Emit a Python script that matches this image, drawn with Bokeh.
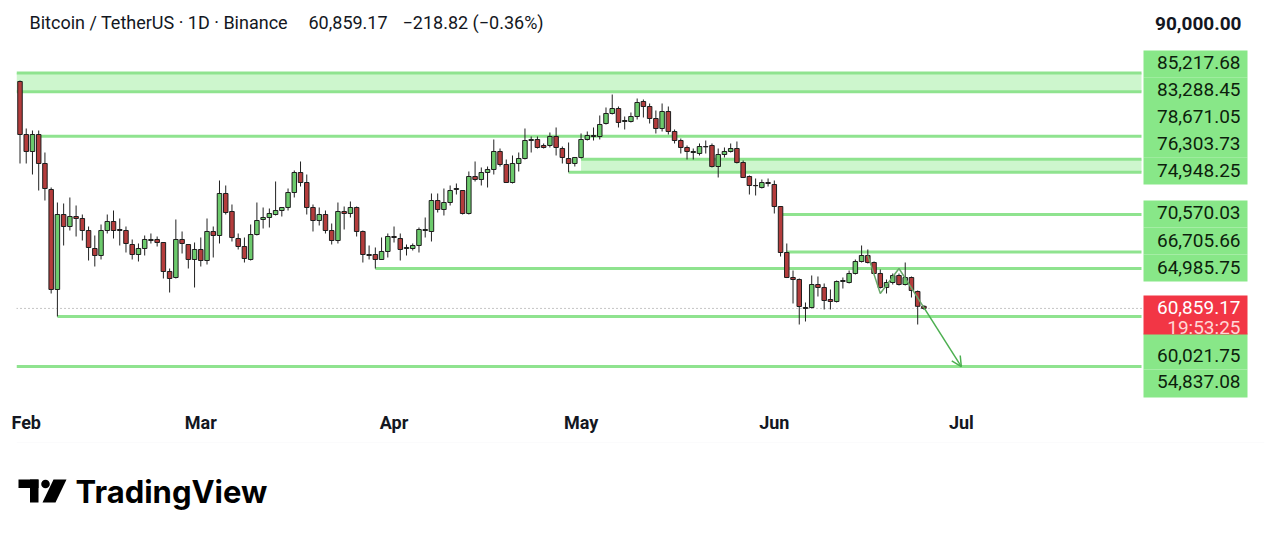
import pandas as pd
from bokeh.plotting import figure
from bokeh.models import Range1d, FixedTicker, DatetimeTickFormatter, Arrow, OpenHead
from bokeh.layouts import column
from bokeh.embed import file_html
from bokeh.resources import INLINE
from bokeh.core.properties import value

# ---------------- data ----------------
symbol_title = "Bitcoin / TetherUS · 1D · Binance"
last_price = 60859.17
change = -218.82
change_pct = -0.36
countdown = "19:53:25"
first_date = "2026-01-31"

opens = [84345, 78859, 77100, 78859, 75858, 73167, 62817, 70579, 69337, 70372,
         70165, 68923, 67060, 66336, 68923, 69855, 69027, 68923, 67474, 66439,
         67060, 67888, 67992, 67681, 64680, 64059, 67992, 67474, 65922, 66957,
         65818, 68820, 68406, 72753, 70890, 68095, 67267, 65922, 68509, 70062,
         70269, 70579, 70993, 71304, 72856, 74926, 73891, 71304, 69958, 70579,
         68923, 67888, 70890, 70683, 71304, 68820, 66439, 66439, 65922, 66750,
         68302, 68095, 67060, 67060, 67371, 68923, 68820, 72028, 71097, 71821,
         73167, 73063, 70683, 74512, 74202, 74926, 75237, 77100, 75754, 73891,
         75858, 76375, 78238, 78342, 77721, 77721, 78652, 77410, 76375, 75858,
         76479, 78342, 78756, 78652, 79998, 81033, 81550, 80205, 80205, 80722,
         82275, 81757, 80515, 79480, 81240, 79170, 78238, 77514, 76996, 76893,
         77617, 77721, 75547, 76789, 77100, 77410, 75961, 74512, 73581, 73374,
         73891, 73684, 71407, 66646, 64059, 63852, 60954, 60954, 63334, 63024,
         61782, 61575, 63645, 63541, 64473, 65715, 66336, 65611, 64473, 63024,
         63541, 64266, 63334, 64059, 62610, 61077.99]
highs = [84448, 79480, 79273, 79273, 76996, 73374, 71821, 71718, 72339, 71511,
         70579, 69337, 68406, 69544, 70579, 70993, 70165, 69337, 67992, 67578,
         68406, 68613, 68302, 67681, 64990, 70062, 68820, 67474, 67681, 68199,
         70165, 69337, 74098, 73581, 71614, 68613, 68199, 69544, 71821, 71304,
         71200, 73995, 71304, 73270, 75133, 76065, 74719, 71614, 71304, 70993,
         69648, 71821, 71407, 71925, 71407, 68923, 67371, 67164, 68199, 68613,
         69337, 68613, 67474, 67578, 69234, 70269, 72753, 72753, 73270, 73581,
         73788, 73063, 75030, 76065, 75444, 75547, 78342, 77410, 76272, 76686,
         76996, 79480, 78652, 78652, 77928, 79066, 79584, 77617, 78031, 76479,
         78963, 79170, 79584, 80826, 81654, 82999, 81757, 80722, 81136, 82585,
         82482, 82068, 81343, 82068, 81757, 79377, 78445, 77721, 77410, 77928,
         78238, 77928, 77410, 77514, 77928, 78135, 76168, 74616, 74305, 74202,
         74305, 74098, 71407, 67578, 64783, 63955, 61471, 64266, 64162, 63438,
         62817, 63748, 64059, 64783, 65922, 67371, 66957, 65715, 64887, 63852,
         64473, 64473, 65611, 64162, 62713, 61180]
lows = [75858, 75858, 74719, 73063, 72028, 62403, 60021.75, 67371, 68923, 68302,
        67888, 65818, 65197, 65922, 68613, 68095, 67371, 66646, 65922, 65715,
        66336, 67578, 67267, 63955, 62506, 63955, 66543, 64990, 63024, 65197,
        65404, 66129, 67578, 70579, 67785, 66957, 65611, 65818, 68406, 69130,
        69234, 70476, 70372, 70993, 72339, 73477, 70579, 68820, 69441, 68613,
        67474, 67578, 69027, 70269, 68302, 65611, 65922, 64985.75, 65880, 66129,
        67681, 65818, 66336, 66853, 66646, 68199, 67785, 70786, 70476, 71511,
        72649, 70579, 70579, 73995, 73581, 73374, 74719, 75547, 73850, 73788,
        75030, 76272, 76996, 77410, 77410, 77514, 76686, 75858, 74948.25, 75547,
        76375, 78238, 78238, 78342, 79894, 80929, 79584, 79377, 80101, 80412,
        80619, 79998, 78963, 79170, 78859, 77928, 76893, 76272, 76272, 76686,
        76893, 75444, 74409, 76479, 76996, 75858, 74350, 72649, 72546, 73270,
        73477, 70683, 66232, 64000, 61368, 59194, 59505, 60850, 62092, 60747,
        60747, 61471, 62920, 63438, 64369, 65611, 65508, 64420, 62920, 62403,
        63334, 63231, 63231, 61989, 59194, 60720]
closes = [78859, 77100, 78859, 75858, 73270, 62817, 70579, 69337, 70372, 70165,
          68923, 67164, 66336, 68923, 69855, 68923, 68923, 67578, 66439, 67060,
          67992, 67992, 67681, 64680, 63955, 67992, 67578, 65922, 66957, 65818,
          68820, 68406, 72753, 70786, 68199, 67267, 66025, 68509, 69958, 70269,
          70683, 70993, 71304, 72856, 74926, 73891, 71304, 69958, 70579, 68923,
          67888, 70890, 70683, 71304, 68820, 66439, 66336, 65922, 66750, 68302,
          68199, 66957, 67164, 67371, 69027, 69027, 72028, 71097, 71821, 73063,
          73270, 70683, 74512, 74202, 74926, 75237, 77100, 75754, 73891, 75858,
          76375, 78238, 78342, 77514, 77514, 78652, 77514, 76479, 75858, 76479,
          78342, 78756, 78652, 79894, 81033, 81550, 80101, 80308, 80722, 82171,
          81757, 80515, 79480, 81240, 79170, 78238, 77514, 77100, 77100, 77617,
          77580, 75547, 76789, 77100, 77410, 75961, 74409, 73581, 73560, 73891,
          73788, 71407, 66646, 64059, 63852, 61057, 60850, 63334, 63024, 61678,
          61575, 63645, 63748, 64473, 65715, 66336, 65611, 64473, 63024, 63541,
          64266, 63334, 64059, 62713, 61077.99, 60859.17]

month_ticks = ["2026-02-01", "2026-03-01", "2026-04-01", "2026-05-01", "2026-06-01", "2026-07-01"]
axis_price = 90000.0

level_prices = [85217.68, 83288.45, 78671.05, 76303.73, 74948.25,
                70570.03, 66705.66, 64985.75, 60021.75, 54837.08]
level_starts = [None, None, "2026-02-03", "2026-05-01", "2026-04-29",
                "2026-06-02", "2026-06-03", "2026-03-29", "2026-02-06", None]
band_tops = [85217.68, 76303.73]
band_bottoms = [83288.45, 74948.25]
band_starts = [None, "2026-05-01"]

zz_dates = ["2026-06-16", "2026-06-18", "2026-06-21", "2026-06-25"]
zz_prices = [66350, 62400, 64990, 60950]
target_date = "2026-07-01"
target_price = 54837.08

# ---------------- layout helpers (pixel placement of the screenshot) ----------------
REF_X_FIRST = 19.5    # screen x of the first candle
PX_DAY = 6.234        # pixels per day
P_TOP = 92728.0       # price at screen y = 0
P_PX = 103.5          # price per pixel
DAY = 86400000.0


def ms(ts):
    return pd.Timestamp(ts).value / 1e6


T0 = ms(first_date)


def xr(ref_x):
    return T0 + (ref_x - REF_X_FIRST) / PX_DAY * DAY


def yr(ref_y):
    return P_TOP - P_PX * ref_y


FONT = value("Roboto")
INK = "#131722"
LINE_GREEN = "#8fe38f"
BAND_FILL = "#cdf6cd"
LABEL_GREEN = "#88e788"
UP = "#6cca6c"
DOWN = "#b43c3c"

dates = pd.date_range(first_date, periods=len(opens), freq="D")

p = figure(width=1272, height=442, x_axis_type="datetime", y_axis_location=None,
           x_range=Range1d(xr(16), xr(1264)), y_range=Range1d(yr(405), yr(0)),
           toolbar_location=None, output_backend="svg",
           min_border_left=16, min_border_right=8, min_border_top=0, min_border_bottom=37)
p.outline_line_color = None
p.xgrid.visible = False
p.ygrid.visible = False
p.background_fill_color = "white"
p.border_fill_color = "white"

ax = p.xaxis[0]
ax.ticker = FixedTicker(ticks=[ms(t) for t in month_ticks])
ax.formatter = DatetimeTickFormatter(days="%b", months="%b", years="%b")
ax.axis_line_color = None
ax.major_tick_line_color = None
ax.minor_tick_line_color = None
ax.major_tick_out = 0
ax.major_tick_in = 0
ax.minor_tick_out = 0
ax.major_label_text_font = "Roboto"
ax.major_label_text_font_size = "18px"
ax.major_label_text_font_style = "bold"
ax.major_label_text_color = INK
ax.major_label_standoff = 6

line_end = xr(1141)
left_edge = xr(16)

# bands
p.quad(left=[ms(s) if s else left_edge for s in band_starts], right=[line_end] * len(band_tops),
       top=band_tops, bottom=band_bottoms, fill_color=BAND_FILL, line_color=None)
# horizontal levels
p.segment(x0=[ms(s) if s else left_edge for s in level_starts], y0=level_prices,
          x1=[line_end] * len(level_prices), y1=level_prices,
          line_color=LINE_GREEN, line_width=3)
# current price dotted
p.segment(x0=[left_edge], y0=[last_price], x1=[line_end], y1=[last_price],
          line_color="#8a8a8a", line_width=1, line_dash="1 3")

# candles
colors = [UP if c >= o else DOWN for o, c in zip(opens, closes)]
p.segment(x0=dates, y0=highs, x1=dates, y1=lows, line_color="#222222", line_width=1)
p.vbar(x=dates, width=0.72 * DAY, top=[max(o, c) for o, c in zip(opens, closes)],
       bottom=[min(o, c) for o, c in zip(opens, closes)], fill_color=colors,
       line_color="#1e1e1e", line_width=1)

# drawing: zigzag + arrow
zz_x = [ms(d) for d in zz_dates]
p.line(zz_x, zz_prices, line_color="#6aa86a", line_width=1.5)
p.add_layout(Arrow(end=OpenHead(size=10, line_color="#4caf50", line_width=1.5),
                   x_start=zz_x[-1], y_start=zz_prices[-1],
                   x_end=ms(target_date), y_end=target_price,
                   line_color="#4caf50", line_width=1.5))

# price scale labels
label_tops = [50, 76.8, 103.6, 130.4, 157.2, 200, 227, 254, 333, 369]
label_bottoms = [76.8, 103.6, 130.4, 157.2, 184, 227, 254, 281, 369, 397]
label_text_y = [62, 88.5, 115.5, 142.5, 169.5, 212, 239.5, 266.5, 355, 381]
p.quad(left=[xr(1143)] * len(level_prices), right=[xr(1247)] * len(level_prices),
       top=[yr(v) for v in label_tops], bottom=[yr(v) for v in label_bottoms],
       fill_color=LABEL_GREEN, line_color=None)
p.text(x=[xr(1240)] * len(level_prices), y=[yr(v) for v in label_text_y],
       text=[f"{v:,.2f}" for v in level_prices], text_font=FONT, text_font_size="19px",
       text_align="right", text_baseline="middle", text_color="#0d1f0d")
# current price badge
p.quad(left=[xr(1143)], right=[xr(1247)], top=[yr(295)], bottom=[yr(334)],
       fill_color="#f23645", line_color=None)
p.text(x=[xr(1240), xr(1240)], y=[yr(306.5), yr(327)],
       text=[f"{last_price:,.2f}", countdown], text_font=FONT, text_font_size="19px",
       text_align="right", text_baseline="middle", text_color=["#ffffff", "#ffd6d6"])
# visible axis tick label
p.text(x=[xr(1241)], y=[yr(23)], text=[f"{axis_price:,.2f}"], text_font=FONT,
       text_font_size="19px", text_font_style="bold", text_align="right",
       text_baseline="middle", text_color=INK)

# legend / title line
p.text(x=[xr(29), xr(308), xr(402)], y=[yr(22)] * 3,
       text=[symbol_title, f"{last_price:,.2f}",
             f"\u2212{abs(change):,.2f} (\u2212{abs(change_pct):.2f}%)"],
       text_font=FONT, text_font_size="18px", text_align="left",
       text_baseline="middle", text_color=INK)

# ---------------- footer with TradingView logo ----------------
q = figure(width=1272, height=88, x_range=Range1d(16, 1264), y_range=Range1d(530, 442),
           toolbar_location=None, output_backend="svg", x_axis_location=None,
           y_axis_location=None, min_border=0, min_border_left=16, min_border_right=8)
q.outline_line_color = None
q.xgrid.visible = False
q.ygrid.visible = False
q.background_fill_color = "white"
q.border_fill_color = "white"
q.segment(x0=[16], y0=[441.5], x1=[1264], y1=[441.5], line_color="#eef0f3", line_width=1)
q.quad(left=[18, 29.5], right=[38, 38], top=[479, 479], bottom=[487.5, 502],
       fill_color="#000000", line_color=None)
q.circle(x=[45], y=[483.5], radius=4.3, fill_color="#000000", line_color=None)
q.patch([53, 66, 55, 42], [479, 479, 502, 502], fill_color="#000000", line_color=None)
q.text(x=[75], y=[491], text=["TradingView"], text_font=value("Inter"),
       text_font_size="31px", text_font_style="bold", text_align="left",
       text_baseline="middle", text_color="#000000")

layout = column(p, q, spacing=0)
open("out.html", "w").write(file_html(layout, INLINE))
